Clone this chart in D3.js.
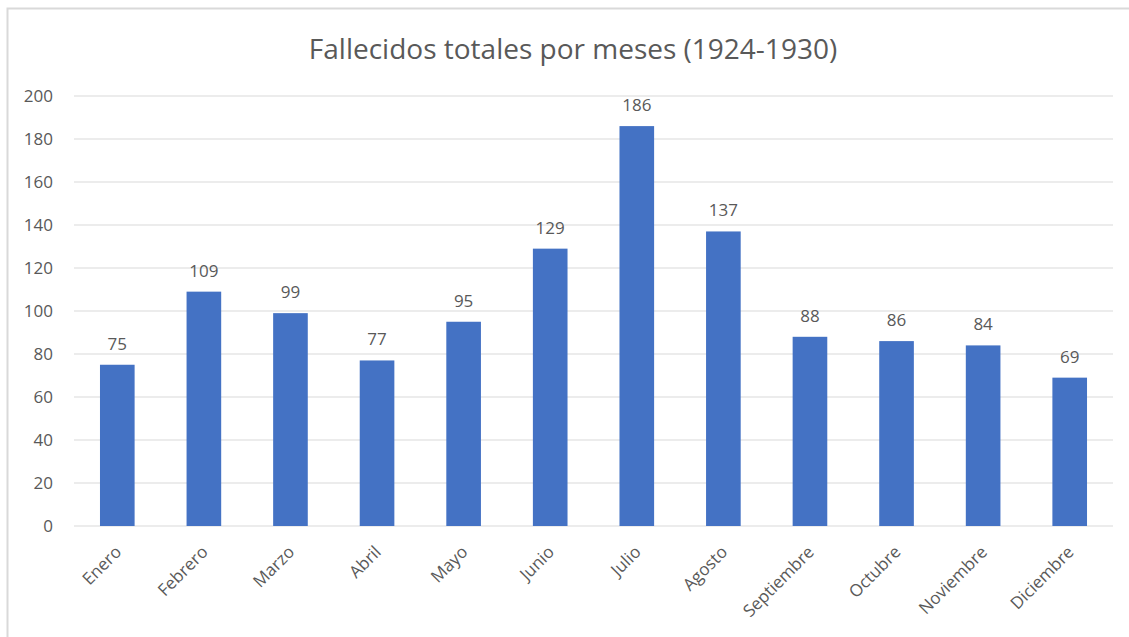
<!DOCTYPE html>
<html>
<head>
<meta charset="utf-8">
<script src="https://cdn.jsdelivr.net/npm/d3@7"></script>
<style>
    body { margin: 0; background: #fff; }
    text { font-family: 'Open Sans', sans-serif; fill: #595959; }
</style>
</head>
<body>
<svg id="chart" width="1129" height="637"></svg>
<script>
// DATA
const months = ['Enero', 'Febrero', 'Marzo', 'Abril', 'Mayo', 'Junio', 'Julio',
    'Agosto', 'Septiembre', 'Octubre', 'Noviembre', 'Diciembre'];
const deaths = [75, 109, 99, 77, 95, 129, 186, 137, 88, 86, 84, 69];
const yTicks = [0, 20, 40, 60, 80, 100, 120, 140, 160, 180, 200];
const title = 'Fallecidos totales por meses (1924-1930)';

const svg = d3.select('#chart');

// CHART BORDER (extends past the picture on right/bottom)
svg.append('rect')
    .attr('x', 7.5).attr('y', 8.5)
    .attr('width', 1140).attr('height', 650)
    .attr('fill', 'none')
    .attr('stroke', '#d9d9d9')
    .attr('stroke-width', 2);

// MARGINS
const margin = { top: 96, right: 16, bottom: 111, left: 74 };
const width = 1129 - margin.left - margin.right;
const height = 637 - margin.top - margin.bottom;

const g = svg.append('g')
    .attr('transform', `translate(${margin.left},${margin.top})`);

// SCALES
const x = d3.scaleBand().domain(months).range([0, width]).paddingInner(0.6).paddingOuter(0.3);
const y = d3.scaleLinear().domain([0, 200]).range([height, 0]);

// GRID
g.append('g')
    .selectAll('line')
    .data(yTicks)
    .join('line')
    .attr('x1', 0).attr('x2', width)
    .attr('y1', d => y(d)).attr('y2', d => y(d))
    .attr('stroke', '#d9d9d9')
    .attr('stroke-width', 1);

// Y AXIS
const yAxis = g.append('g')
    .call(d3.axisLeft(y).tickValues(yTicks).tickSize(0).tickPadding(21));
yAxis.select('.domain').remove();
yAxis.selectAll('text')
    .style('font-size', '17px')
    .attr('fill', '#595959');

// X AXIS
const xAxis = g.append('g')
    .attr('transform', `translate(0,${height})`)
    .call(d3.axisBottom(x).tickSize(0));
xAxis.select('.domain').remove();
xAxis.selectAll('text')
    .style('font-size', '17px')
    .attr('fill', '#595959')
    .attr('text-anchor', 'end')
    .attr('dy', 0)
    .attr('transform', 'translate(3,25) rotate(-45)');

// BARS
g.selectAll('rect.bar')
    .data(deaths)
    .join('rect')
    .attr('class', 'bar')
    .attr('x', (d, i) => x(months[i]))
    .attr('y', d => y(d))
    .attr('width', x.bandwidth())
    .attr('height', d => height - y(d))
    .attr('fill', '#4472c4');

// VALUE LABELS
g.selectAll('text.val')
    .data(deaths)
    .join('text')
    .attr('class', 'val')
    .attr('x', (d, i) => x(months[i]) + x.bandwidth() / 2)
    .attr('y', d => y(d) - 15)
    .attr('text-anchor', 'middle')
    .style('font-size', '17px')
    .text(d => d);

// TITLE
svg.append('text')
    .attr('x', 573)
    .attr('y', 59)
    .attr('text-anchor', 'middle')
    .style('font-size', '28px')
    .text(title);
</script>
</body>
</html>
